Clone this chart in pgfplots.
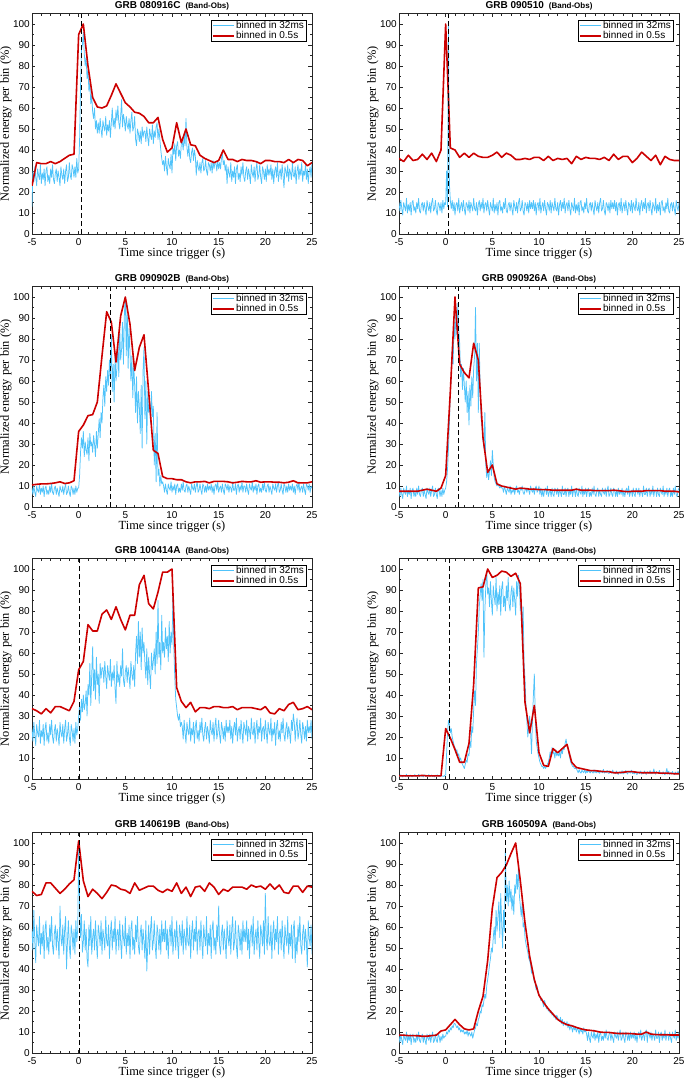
\documentclass[border=0pt]{standalone}
\usepackage{fontspec}
\setmainfont{Liberation Sans}
\newfontfamily\serifnf{Liberation Serif}
\usepackage{pgfplots}
\pgfplotsset{compat=1.18}
\definecolor{blue32}{RGB}{80,195,250}
\definecolor{red05}{RGB}{204,0,0}
\newcommand{\grbt}[1]{#1\hspace{5pt}{\fontsize{8}{10}\selectfont(Band-Obs)}}
\pgfplotsset{
 grb/.style={
  scale only axis, width=280pt, height=220.5pt,
  xmin=-5, xmax=25, ymin=0, ymax=105,
  xtick={-5,0,5,10,15,20,25}, ytick={0,10,...,100},
  minor x tick num=4, minor y tick num=1,
  tick align=inside, major tick length=3.5pt, minor tick length=2pt,
  tick style={black!85, line width=0.4pt},
  axis line style={black!85, line width=0.5pt},
  /pgf/number format/assume math mode=true,
  tick label style={font=\fontsize{10}{12}\selectfont, inner sep=0.5pt},
  xticklabel style={yshift=-4pt},
  yticklabel style={xshift=-1.5pt},
  xlabel={Time since trigger (s)}, ylabel={Normalized energy per bin (\%)},
  label style={font=\serifnf\fontsize{12.4}{14}\selectfont},
  xlabel style={at={(axis description cs:0.5,-0.088)},anchor=center},
  ylabel style={at={(axis description cs:-0.093,0.5)},anchor=center},
  every axis title/.style={at={(axis description cs:0.5,1)},anchor=base,yshift=5pt,font=\fontsize{10}{12}\selectfont\bfseries},
  legend style={at={(axis description cs:0.979,0.972)}, anchor=north east, draw=black, line width=0.5pt, fill=white, inner xsep=1pt, inner ysep=0pt, font=\fontsize{10}{11}\selectfont, row sep=0pt, nodes={inner sep=1pt}, cells={anchor=west}},
  legend image code/.code={\draw[#1] (0pt,0pt) -- (21pt,0pt);},
 },
 b32/.style={blue32, line width=0.75pt, line join=round},
 r05/.style={red05, line width=1.6pt, line join=round},
 trig/.style={black, line width=1.1pt, dash pattern=on 5pt off 3pt, forget plot},
}
\begin{document}
\begin{tikzpicture}
\useasboundingbox (0,0) rectangle (685pt,-1080pt);
% ---------------- Panel 1
\begin{axis}[grb, at={(32pt,-234pt)}, anchor=south west, title={\grbt{GRB 080916C}}]
\addplot[b32] coordinates {(-5,13)(-4.9,30)(-4.8,25)(-4.7,32)(-4.6,27)(-4.5,23)(-4.4,31)(-4.3,28)(-4.2,26)(-4.1,33)(-4,24)
(-3.9,29)(-3.8,26)(-3.7,31)(-3.6,23)(-3.5,30)(-3.4,32)(-3.3,25)(-3.2,28)(-3.1,24)(-3,31)
(-2.9,27)(-2.8,33)(-2.7,26)(-2.6,24)(-2.5,29)(-2.4,31)(-2.3,25)(-2.2,30)(-2.1,27)(-2,23)
(-1.9,32)(-1.8,28)(-1.7,26)(-1.6,31)(-1.5,24)(-1.4,30)(-1.3,33)(-1.2,25)(-1.1,27)(-1,34)
(-0.9,28)(-0.8,26)(-0.7,33)(-0.6,31)(-0.5,27)(-0.4,32)(-0.3,27)(-0.2,36)(-0.1,29)(0,31)
(0.1,45)(0.2,70)(0.3,88)(0.4,90)(0.5,96)(0.6,86)(0.7,80)(0.8,84)(0.9,74)(1,78)
(1.1,68)(1.2,72)(1.3,62)(1.4,66)(1.5,58)(1.6,55)(1.7,60)(1.8,50)(1.9,54)(2,48)
(2.1,53)(2.2,48)(2.3,55)(2.4,50)(2.5,46)(2.6,54)(2.7,51)(2.8,49)(2.9,56)(3,47)
(3.1,52)(3.2,49)(3.3,54)(3.4,46)(3.5,53)(3.6,60)(3.7,51)(3.8,55)(3.9,50)(4,59)
(4.1,54)(4.2,61)(4.3,53)(4.4,50)(4.5,56)(4.6,64)(4.7,51)(4.8,57)(4.9,54)(5,49)
(5.1,56)(5.2,52)(5.3,50)(5.4,55)(5.5,48)(5.6,54)(5.7,58)(5.8,49)(5.9,51)(6,56)
(6.1,45)(6.2,42)(6.3,50)(6.4,48)(6.5,44)(6.6,49)(6.7,43)(6.8,51)(6.9,46)(7,49)
(7.1,49)(7.2,44)(7.3,51)(7.4,46)(7.5,42)(7.6,50)(7.7,47)(7.8,45)(7.9,52)(8,43)
(8.1,49)(8.2,46)(8.3,51)(8.4,53)(8.5,45)(8.6,50)(8.7,45)(8.8,40)(8.9,36)(9,33)
(9.1,35)(9.2,30)(9.3,37)(9.4,32)(9.5,28)(9.6,36)(9.7,33)(9.8,31)(9.9,38)(10,29)
(10.1,41)(10.2,38)(10.3,43)(10.4,35)(10.5,42)(10.6,44)(10.7,37)(10.8,40)(10.9,36)(11,43)
(11.1,44)(11.2,40)(11.3,47)(11.4,42)(11.5,55)(11.6,41)(11.7,37)(11.8,43)(11.9,36)(12,34)
(12.1,39)(12.2,41)(12.3,35)(12.4,40)(12.5,37)(12.6,28)(12.7,35)(12.8,32)(12.9,30)(13,34)
(13.1,29)(13.2,34)(13.3,36)(13.4,30)(13.5,31)(13.6,35)(13.7,30)(13.8,28)(13.9,34)(14,33)
(14.1,30)(14.2,34)(14.3,29)(14.4,35)(14.5,31)(14.6,34)(14.7,34)(14.8,30)(14.9,35)(15,31)
(15.1,34)(15.2,31)(15.3,36)(15.4,38)(15.5,33)(15.6,35)(15.7,30)(15.8,33)
(15.9,24)(16,32)(16.1,29)(16.2,27)(16.3,34)(16.4,25)(16.5,30)(16.6,27)(16.7,32)(16.8,24)
(16.9,31)(17,33)(17.1,26)(17.2,29)(17.3,25)(17.4,32)(17.5,28)(17.6,34)(17.7,27)(17.8,25)
(17.9,30)(18,32)(18.1,26)(18.2,31)(18.3,28)(18.4,24)(18.5,33)(18.6,29)(18.7,27)(18.8,32)
(18.9,25)(19,31)(19.1,34)(19.2,26)(19.3,28)(19.4,33)(19.5,27)(19.6,24)(19.7,32)(19.8,30)
(19.9,26)(20,31)(20.1,25)(20.2,33)(20.3,28)(20.4,31)
(20.5,28)(20.6,33)(20.7,26)(20.8,31)(20.9,24)(21,30)(21.1,32)(21.2,27)(21.3,34)(21.4,25)
(21.5,29)(21.6,31)(21.7,26)(21.8,33)(21.9,28)(22,22)(22.1,32)(22.2,30)(22.3,27)(22.4,33)
(22.5,25)(22.6,31)(22.7,29)(22.8,26)(22.9,34)(23,28)(23.1,27)(23.2,32)(23.3,24)(23.4,30)
(23.5,33)(23.6,26)(23.7,31)(23.8,28)(23.9,34)(24,25)(24.1,30)(24.2,28)(24.3,33)(24.4,26)
(24.5,31)(24.6,24)(24.7,30)(24.8,32)(24.9,27)(25,34)};
\addplot[r05] coordinates {(-5,23)(-4.5,34)(-4,33.5)(-3.5,33.5)(-3,34.5)(-2.5,33.5)(-2,34.5)(-1.5,36)(-1,37.5)(-0.5,38)(0,95)(0.5,100)(1,80)(1.5,65)(2,60.5)(2.5,60)(3,61)(3.5,66)(4,71.5)(4.5,67)(5,62.5)(5.5,60.5)(6,58)(6.5,57.5)(7,56)(7.5,53)(8,53)(8.5,55.5)(9,45)(9.5,39)(10,41)(10.5,53)(11,43.5)(11.5,50)(12,42.5)(12.5,42)(13,37.5)(13.5,36)(14,35)(14.5,34)(15,35)(15.5,40)(16,35.5)(16.5,35.5)(17,34.5)(17.5,35.5)(18,35)(18.5,35)(19,34.5)(19.5,33.5)(20,35)(20.5,35)(21,34.5)(21.5,34.5)(22,34)(22.5,35.5)(23,34)(23.5,35.5)(24,35)(24.5,32.5)(25,34)};
\addplot[trig] coordinates {(0.3,0)(0.3,105)};
\legend{binned in 32ms,binned in 0.5s}
\end{axis}
% ---------------- Panel 2
\begin{axis}[grb, at={(399pt,-234pt)}, anchor=south west, title={\grbt{GRB 090510}}]
\addplot[b32] coordinates {(-5,15)(-4.9,11)(-4.8,16)(-4.7,12)(-4.6,9)(-4.5,15)(-4.4,13)(-4.3,11)(-4.2,17)(-4.1,10)
(-4,14)(-3.9,11)(-3.8,15)(-3.7,9)(-3.6,15)(-3.5,16)(-3.4,11)(-3.3,13)(-3.2,10)(-3.1,15)
(-3,12)(-2.9,17)(-2.8,11)(-2.7,10)(-2.6,14)(-2.5,15)(-2.4,11)(-2.3,15)(-2.2,12)(-2.1,9)
(-2,16)(-1.9,13)(-1.8,11)(-1.7,15)(-1.6,10)(-1.5,15)(-1.4,17)(-1.3,11)(-1.2,12)(-1.1,16)
(-1,11)(-0.9,9)(-0.8,15)(-0.7,14)(-0.6,11)(-0.5,15)(-0.4,10)(-0.3,16)(-0.2,12)(-0.1,15)
(0,14)(0.1,30)(0.2,13)(0.3,100)(0.4,24)(0.5,16)
(0.6,12)(0.7,16)(0.8,11)(0.9,15)(1,9)(1.1,14)(1.2,15)(1.3,11)(1.4,17)(1.5,10)
(1.6,13)(1.7,15)(1.8,11)(1.9,16)(2,12)(2.1,9)(2.2,15)(2.3,14)(2.4,11)(2.5,16)
(2.6,10)(2.7,15)(2.8,13)(2.9,11)(3,17)(3.1,12)(3.2,11)(3.3,15)(3.4,9)(3.5,14)
(3.6,16)(3.7,11)(3.8,15)(3.9,12)(4,17)(4.1,10)(4.2,14)
(4.3,15)(4.4,11)(4.5,16)(4.6,12)(4.7,9)(4.8,15)(4.9,13)(5,11)(5.1,17)(5.2,10)
(5.3,14)(5.4,11)(5.5,15)(5.6,9)(5.7,15)(5.8,16)(5.9,11)(6,13)(6.1,10)(6.2,15)
(6.3,12)(6.4,17)(6.5,11)(6.6,10)(6.7,14)(6.8,15)(6.9,11)(7,15)(7.1,12)(7.2,9)
(7.3,16)(7.4,13)(7.5,11)(7.6,15)(7.7,10)(7.8,15)(7.9,17)(8,11)(8.1,12)(8.2,16)
(8.3,11)(8.4,9)(8.5,15)(8.6,14)(8.7,11)(8.8,15)(8.9,10)(9,16)(9.1,12)(9.2,15)
(9.3,12)(9.4,16)(9.5,11)(9.6,15)(9.7,9)(9.8,14)(9.9,15)(10,11)(10.1,17)(10.2,10)
(10.3,13)(10.4,15)(10.5,11)(10.6,16)(10.7,12)(10.8,9)(10.9,15)(11,14)(11.1,11)(11.2,16)
(11.3,10)(11.4,15)(11.5,13)(11.6,11)(11.7,17)(11.8,12)(11.9,11)(12,15)(12.1,9)(12.2,14)
(12.3,16)(12.4,11)(12.5,15)(12.6,12)(12.7,17)(12.8,10)(12.9,14)
(13,15)(13.1,11)(13.2,16)(13.3,12)(13.4,9)(13.5,15)(13.6,13)(13.7,11)(13.8,17)(13.9,10)
(14,14)(14.1,11)(14.2,15)(14.3,9)(14.4,15)(14.5,16)(14.6,11)(14.7,13)(14.8,10)(14.9,15)
(15,12)(15.1,17)(15.2,11)(15.3,10)(15.4,14)(15.5,15)(15.6,11)(15.7,15)(15.8,12)(15.9,9)
(16,16)(16.1,13)(16.2,11)(16.3,15)(16.4,10)(16.5,15)(16.6,17)(16.7,11)(16.8,12)(16.9,16)
(17,11)(17.1,9)(17.2,15)(17.3,14)(17.4,11)(17.5,15)(17.6,10)(17.7,16)(17.8,12)(17.9,15)
(18,12)(18.1,16)(18.2,11)(18.3,15)(18.4,9)(18.5,14)(18.6,15)(18.7,11)(18.8,17)(18.9,10)
(19,13)(19.1,15)(19.2,11)(19.3,16)(19.4,12)(19.5,9)(19.6,15)(19.7,14)(19.8,11)(19.9,16)
(20,10)(20.1,15)(20.2,13)(20.3,11)(20.4,17)(20.5,12)(20.6,11)(20.7,15)(20.8,9)(20.9,14)
(21,16)(21.1,11)(21.2,15)(21.3,12)(21.4,17)(21.5,10)(21.6,14)
(21.7,15)(21.8,11)(21.9,16)(22,12)(22.1,9)(22.2,15)(22.3,13)(22.4,11)(22.5,17)(22.6,10)
(22.7,14)(22.8,11)(22.9,15)(23,9)(23.1,15)(23.2,16)(23.3,11)(23.4,13)(23.5,10)(23.6,15)
(23.7,12)(23.8,17)(23.9,11)(24,10)(24.1,14)(24.2,15)(24.3,11)(24.4,15)(24.5,12)(24.6,9)
(24.7,16)(24.8,13)(24.9,11)(25,15)};
\addplot[r05] coordinates {(-5,36)(-4.5,34.5)(-4,37.5)(-3.5,35)(-3,35.5)(-2.5,38)(-2,35.5)(-1.5,38.5)(-1,34.5)(-0.5,40)(0,100)(0.5,41)(1,40)(1.5,36.5)(2,38.5)(2.5,36.5)(3,38.5)(3.5,37)(4,36.5)(4.5,36.5)(5,37.5)(5.5,39)(6,36.5)(6.5,38.5)(7,37.5)(7.5,35.5)(8,35.5)(8.5,36)(9,35.5)(9.5,36.5)(10,36.5)(10.5,35)(11,37)(11.5,35)(12,36)(12.5,35.5)(13,36)(13.5,33.5)(14,37)(14.5,35.5)(15,36.5)(15.5,36)(16,36)(16.5,35.5)(17,36.5)(17.5,35)(18,38)(18.5,35.5)(19,37)(19.5,37)(20,34)(20.5,36)(21,39)(21.5,37)(22,35)(22.5,37.5)(23,33)(23.5,37)(24,35.5)(24.5,35)(25,35)};
\addplot[trig] coordinates {(0.3,0)(0.3,105)};
\legend{binned in 32ms,binned in 0.5s}
\end{axis}
% ---------------- Panel 3
\begin{axis}[grb, at={(32pt,-507pt)}, anchor=south west, title={\grbt{GRB 090902B}}]
\addplot[b32] coordinates {(-5,9)(-4.9,6)(-4.8,10)(-4.7,7)(-4.6,5)(-4.5,10)(-4.4,8)(-4.3,7)(-4.2,11)(-4.1,6)
(-4,9)(-3.9,7)(-3.8,10)(-3.7,5)(-3.6,9)(-3.5,10)(-3.4,6)(-3.3,8)(-3.2,6)(-3.1,10)
(-3,7)(-2.9,11)(-2.8,7)(-2.7,6)(-2.6,9)(-2.5,10)(-2.4,6)(-2.3,9)(-2.2,7)(-2.1,5)
(-2,10)(-1.9,8)(-1.8,7)(-1.7,10)(-1.6,6)(-1.5,9)(-1.4,11)(-1.3,6)(-1.2,7)(-1.1,10)
(-1,7)(-0.9,5)(-0.8,10)(-0.7,9)(-0.6,6)(-0.5,9)(-0.4,6)(-0.3,10)(-0.2,7)(-0.1,9)
(0,9)(0.1,15)(0.2,26)(0.3,33)(0.4,28)(0.5,36)(0.6,24)(0.7,31)(0.8,27)(0.9,25)
(1,33)(1.1,22)(1.2,35)(1.3,29)(1.4,31)(1.5,26)(1.6,34)(1.7,30)(1.8,24)(1.9,36)(2,28)
(2.1,35)(2.2,42)(2.3,33)(2.4,45)(2.5,40)(2.6,52)(2.7,58)(2.8,48)(2.9,62)(3,55)
(3.1,65)(3.2,58)(3.3,70)(3.4,62)(3.5,82)(3.6,55)(3.7,68)(3.8,50)(3.9,72)(4,60)
(4.1,66)(4.2,78)(4.3,62)(4.4,85)(4.5,70)(4.6,75)(4.7,88)(4.8,68)(4.9,92)(5,100)
(5.1,72)(5.2,96)(5.3,66)(5.4,85)(5.5,74)(5.6,60)(5.7,72)(5.8,52)(5.9,68)(6,58)
(6.1,45)(6.2,62)(6.3,40)(6.4,55)(6.5,48)(6.6,35)(6.7,58)(6.8,28)(6.9,65)(7,76)
(7.1,42)(7.2,60)(7.3,30)(7.4,55)(7.5,45)(7.6,50)(7.7,40)(7.8,55)(7.9,43)(8,48)
(8.1,20)(8.2,35)(8.3,12)(8.4,45)(8.5,15)(8.6,18)(8.7,10)(8.8,15)(8.9,11)(9,12)
(9.1,10)(9.2,7)(9.3,11)(9.4,8)(9.5,6)(9.6,11)(9.7,9)(9.8,8)(9.9,12)(10,7)
(10.1,10)(10.2,8)(10.3,11)(10.4,6)(10.5,10)(10.6,11)(10.7,7)(10.8,9)(10.9,7)(11,11)
(11.1,8)(11.2,12)(11.3,8)(11.4,7)(11.5,10)(11.6,11)(11.7,7)(11.8,10)(11.9,8)(12,6)
(12.1,11)(12.2,9)(12.3,8)(12.4,11)(12.5,7)(12.6,10)(12.7,12)(12.8,7)(12.9,8)(13,11)
(13.1,8)(13.2,6)(13.3,11)(13.4,10)(13.5,7)(13.6,10)(13.7,7)(13.8,11)(13.9,8)(14,10)
(14.1,8)(14.2,11)(14.3,7)(14.4,10)(14.5,6)(14.6,10)(14.7,11)(14.8,8)(14.9,12)(15,7)
(15.1,9)(15.2,10)(15.3,7)(15.4,11)(15.5,8)(15.6,6)(15.7,11)(15.8,10)(15.9,8)(16,11)
(16.1,7)(16.2,10)(16.3,9)(16.4,7)(16.5,12)(16.6,8)(16.7,8)(16.8,11)(16.9,6)(17,10)
(17.1,11)(17.2,7)(17.3,10)(17.4,8)(17.5,12)(17.6,7)(17.7,10)
(17.8,10)(17.9,7)(18,11)(18.1,8)(18.2,6)(18.3,11)(18.4,9)(18.5,8)(18.6,12)(18.7,7)
(18.8,10)(18.9,8)(19,11)(19.1,6)(19.2,10)(19.3,11)(19.4,7)(19.5,9)(19.6,7)(19.7,11)
(19.8,8)(19.9,12)(20,8)(20.1,7)(20.2,10)(20.3,11)(20.4,7)(20.5,10)(20.6,8)(20.7,6)
(20.8,11)(20.9,9)(21,8)(21.1,11)(21.2,7)(21.3,10)(21.4,12)(21.5,7)(21.6,8)(21.7,11)
(21.8,8)(21.9,6)(22,11)(22.1,10)(22.2,7)(22.3,10)(22.4,7)(22.5,11)(22.6,8)(22.7,10)
(22.8,8)(22.9,11)(23,7)(23.1,10)(23.2,6)(23.3,10)(23.4,11)(23.5,8)(23.6,12)(23.7,7)
(23.8,9)(23.9,10)(24,7)(24.1,11)(24.2,8)(24.3,6)(24.4,11)(24.5,10)(24.6,8)(24.7,11)
(24.8,7)(24.9,10)(25,9)};
\addplot[r05] coordinates {(-5,10.5)(-4.5,10.8)(-4,11)(-3.5,11)(-3,11.2)(-2.5,11.5)(-2,12)(-1.5,11.2)(-1,11.5)(-0.5,12.5)(0,36)(0.5,39)(1,43.5)(1.5,44)(2,50)(2.5,72)(3,93)(3.5,88)(4,69)(4.5,91)(5,100)(5.5,87)(6,65)(6.5,76)(7,82)(7.5,55)(8,27)(8.5,25.5)(9,14.5)(9.5,13.5)(10,13.5)(10.5,13)(11,13)(11.5,12)(12,11.5)(12.5,12)(13,12)(13.5,12.2)(14,11.5)(14.5,12.2)(15,12.2)(15.5,12.2)(16,12)(16.5,11.5)(17,11.8)(17.5,12.2)(18,12)(18.5,12)(19,12.5)(19.5,11.8)(20,12)(20.5,12)(21,11.8)(21.5,11.8)(22,11.5)(22.5,11.8)(23,12.5)(23.5,11.5)(24,11.5)(24.5,11.5)(25,12)};
\addplot[trig] coordinates {(3.45,0)(3.45,105)};
\legend{binned in 32ms,binned in 0.5s}
\end{axis}
% ---------------- Panel 4
\begin{axis}[grb, at={(399pt,-507pt)}, anchor=south west, title={\grbt{GRB 090926A}}]
\addplot[b32] coordinates {(-5,8)(-4.9,5)(-4.8,9)(-4.7,6)(-4.6,4)(-4.5,9)(-4.4,7)(-4.3,6)(-4.2,10)(-4.1,5)
(-4,8)(-3.9,6)(-3.8,9)(-3.7,4)(-3.6,8)(-3.5,9)(-3.4,5)(-3.3,7)(-3.2,5)(-3.1,9)
(-3,6)(-2.9,10)(-2.8,6)(-2.7,5)(-2.6,8)(-2.5,9)(-2.4,5)(-2.3,8)(-2.2,6)(-2.1,4)
(-2,9)(-1.9,7)(-1.8,6)(-1.7,9)(-1.6,5)(-1.5,8)(-1.4,10)(-1.3,5)(-1.2,6)(-1.1,9)
(-1,6)(-0.9,4)(-0.8,9)(-0.7,8)(-0.6,5)(-0.5,8)(-0.4,5)(-0.3,9)(-0.2,6)(-0.1,8)
(0,9)(0.1,12)(0.2,18)(0.3,28)(0.4,40)(0.5,55)(0.6,62)(0.7,75)(0.8,68)(0.9,88)(1,80)
(1.1,92)(1.2,82)(1.3,97)(1.4,85)(1.5,78)(1.6,62)(1.7,68)(1.8,56)(1.9,66)(2,58)
(2.1,50)(2.2,60)(2.3,45)(2.4,55)(2.5,39)(2.6,58)(2.7,48)(2.8,62)(2.9,52)(3,66)
(3.1,72)(3.2,95)(3.3,60)(3.4,78)(3.5,45)(3.6,78)(3.7,55)(3.8,42)(3.9,38)(4,32)
(4.1,28)(4.2,45)(4.3,20)(4.4,14)(4.5,18)(4.6,13)(4.7,17)(4.8,22)(4.9,15)(5,27)
(5.1,20)(5.2,14)(5.3,12)(5.4,11)(5.5,10)(5.6,11)(5.7,10)(5.8,9)(5.9,10)(6,9)
(6.1,9)(6.2,7)(6.3,10)(6.4,8)(6.5,6)(6.6,9)(6.7,8)(6.8,7)(6.9,10)(7,6)
(7.1,8)(7.2,7)(7.3,9)(7.4,6)(7.5,9)(7.6,10)(7.7,7)(7.8,8)(7.9,6)(8,9)
(8.1,8)(8.2,10)(8.3,7)(8.4,6)(8.5,8)(8.6,9)(8.7,7)(8.8,9)(8.9,8)(9,6)
(9.1,10)(9.2,8)(9.3,7)(9.4,9)(9.5,6)(9.6,9)(9.7,10)(9.8,7)(9.9,8)(10,10)
(10.1,6)(10.2,9)(10.3,5)(10.4,8)(10.5,5)(10.6,8)(10.7,9)(10.8,6)(10.9,10)(11,5)
(11.1,7)(11.2,8)(11.3,5)(11.4,9)(11.5,6)(11.6,5)(11.7,9)(11.8,8)(11.9,6)(12,9)
(12.1,5)(12.2,8)(12.3,7)(12.4,5)(12.5,10)(12.6,6)(12.7,6)(12.8,9)(12.9,5)(13,8)
(13.1,9)(13.2,5)(13.3,8)(13.4,6)(13.5,10)(13.6,5)(13.7,8)
(13.8,8)(13.9,5)(14,9)(14.1,6)(14.2,5)(14.3,9)(14.4,7)(14.5,6)(14.6,10)(14.7,5)
(14.8,8)(14.9,6)(15,9)(15.1,5)(15.2,8)(15.3,9)(15.4,5)(15.5,7)(15.6,5)(15.7,9)
(15.8,6)(15.9,10)(16,6)(16.1,5)(16.2,8)(16.3,9)(16.4,5)(16.5,8)(16.6,6)(16.7,5)
(16.8,9)(16.9,7)(17,6)(17.1,9)(17.2,5)(17.3,8)(17.4,10)(17.5,5)(17.6,6)(17.7,9)
(17.8,6)(17.9,5)(18,9)(18.1,8)(18.2,5)(18.3,8)(18.4,5)(18.5,9)(18.6,6)(18.7,8)
(18.8,6)(18.9,9)(19,5)(19.1,8)(19.2,5)(19.3,8)(19.4,9)(19.5,6)(19.6,10)(19.7,5)
(19.8,7)(19.9,8)(20,5)(20.1,9)(20.2,6)(20.3,5)(20.4,9)(20.5,8)(20.6,6)(20.7,9)
(20.8,5)(20.9,8)(21,7)(21.1,5)(21.2,10)(21.3,6)(21.4,6)(21.5,9)(21.6,5)(21.7,8)
(21.8,9)(21.9,5)(22,8)(22.1,6)(22.2,10)(22.3,5)(22.4,8)
(22.5,8)(22.6,5)(22.7,9)(22.8,6)(22.9,5)(23,9)(23.1,7)(23.2,6)(23.3,10)(23.4,5)
(23.5,8)(23.6,6)(23.7,9)(23.8,5)(23.9,8)(24,9)(24.1,5)(24.2,7)(24.3,5)(24.4,9)
(24.5,6)(24.6,10)(24.7,6)(24.8,5)(24.9,8)(25,9)};
\addplot[r05] coordinates {(-5,7.5)(-4.5,7.5)(-4,7.5)(-3.5,7.5)(-3,7.5)(-2.5,8)(-2,8.5)(-1.5,8)(-1,7.5)(-0.5,9)(0,15)(0.5,55)(1,100)(1.5,68)(2,64)(2.5,61.5)(3,78)(3.5,70)(4,33)(4.5,16.5)(5,20)(5.5,11)(6,10)(6.5,9.5)(7,9)(7.5,8.5)(8,9)(8.5,8.8)(9,8.5)(9.5,8.5)(10,8.3)(10.5,8.3)(11,8.2)(11.5,8)(12,8)(12.5,8)(13,8)(13.5,8)(14,8.5)(14.5,8)(15,8)(15.5,8)(16,7.8)(16.5,7.8)(17,7.8)(17.5,7.8)(18,8)(18.5,7.8)(19,7.5)(19.5,7.3)(20,7.5)(20.5,7.5)(21,7.5)(21.5,7.8)(22,7.8)(22.5,7.8)(23,7.8)(23.5,7.5)(24,7.5)(24.5,7.5)(25,7.2)};
\addplot[trig] coordinates {(1.4,0)(1.4,105)};
\legend{binned in 32ms,binned in 0.5s}
\end{axis}
% ---------------- Panel 5
\begin{axis}[grb, at={(32pt,-779pt)}, anchor=south west, title={\grbt{GRB 100414A}}]
\addplot[b32] coordinates {(-5,24)(-4.9,18)(-4.8,27)(-4.7,21)(-4.6,16)(-4.5,26)(-4.4,22)(-4.3,20)(-4.2,28)(-4.1,17)
(-4,23)(-3.9,20)(-3.8,26)(-3.7,16)(-3.6,24)(-3.5,27)(-3.4,18)(-3.3,22)(-3.2,17)(-3.1,26)
(-3,21)(-2.9,28)(-2.8,20)(-2.7,17)(-2.6,23)(-2.5,26)(-2.4,18)(-2.3,24)(-2.2,21)(-2.1,16)
(-2,27)(-1.9,22)(-1.8,20)(-1.7,26)(-1.6,17)(-1.5,24)(-1.4,28)(-1.3,18)(-1.2,21)(-1.1,27)
(-1,20)(-0.9,16)(-0.8,26)(-0.7,23)(-0.6,18)(-0.5,24)(-0.4,17)(-0.3,27)(-0.2,21)(-0.1,24)
(0,30)(0.1,35)(0.2,28)(0.3,38)(0.4,32)(0.5,40)(0.6,33)(0.7,36)(0.8,42)(0.9,30)(1,45)
(1.1,40)(1.2,55)(1.3,35)(1.4,50)(1.5,63)(1.6,42)(1.7,52)(1.8,38)(1.9,58)(2,45)
(2.1,50)(2.2,36)(2.3,55)(2.4,48)(2.5,53)
(2.6,53)(2.7,46)(2.8,56)(2.9,49)(3,43)(3.1,54)(3.2,50)(3.3,47)(3.4,57)(3.5,44)
(3.6,51)(3.7,47)(3.8,54)(3.9,43)(4,36)(4.1,56)(4.2,46)(4.3,50)(4.4,44)(4.5,54)
(4.6,49)(4.7,62)(4.8,47)(4.9,44)(5,51)(5.1,54)(5.2,46)(5.3,53)(5.4,49)(5.5,43)
(5.6,56)(5.7,50)(5.8,47)(5.9,54)(6,44)
(6.1,60)(6.2,68)(6.3,55)(6.4,75)(6.5,58)(6.6,70)(6.7,52)(6.8,72)(6.9,60)(7,65)
(7.1,55)(7.2,48)(7.3,62)(7.4,45)(7.5,58)(7.6,50)(7.7,43)(7.8,60)(7.9,52)(8,56)
(8.1,62)(8.2,50)(8.3,70)(8.4,55)(8.5,85)(8.6,58)(8.7,65)(8.8,52)(8.9,78)(9,60)
(9.1,65)(9.2,58)(9.3,72)(9.4,62)(9.5,68)(9.6,56)(9.7,75)(9.8,60)(9.9,70)(10,64)
(10.1,88)(10.2,62)(10.3,48)(10.4,38)(10.5,34)(10.6,30)(10.7,28)(10.8,31)(10.9,25)(11,27)
(11.1,25)(11.2,19)(11.3,28)(11.4,22)(11.5,17)(11.6,27)(11.7,23)(11.8,21)(11.9,29)(12,18)
(12.1,24)(12.2,21)(12.3,27)(12.4,17)(12.5,25)(12.6,28)(12.7,19)(12.8,23)(12.9,18)(13,27)
(13.1,22)(13.2,29)(13.3,21)(13.4,18)(13.5,24)(13.6,27)(13.7,19)(13.8,25)(13.9,22)(14,17)
(14.1,28)(14.2,23)(14.3,21)(14.4,27)(14.5,18)(14.6,25)(14.7,29)(14.8,19)(14.9,22)(15,28)
(15.1,21)(15.2,17)(15.3,27)(15.4,24)(15.5,19)(15.6,25)(15.7,18)(15.8,28)(15.9,22)(16,25)
(16.1,22)(16.2,28)(16.3,19)(16.4,25)(16.5,17)(16.6,24)(16.7,27)(16.8,21)(16.9,29)(17,18)
(17.1,23)(17.2,25)(17.3,19)(17.4,28)(17.5,22)(17.6,17)(17.7,27)(17.8,24)(17.9,21)(18,28)
(18.1,18)(18.2,25)(18.3,23)(18.4,19)(18.5,29)(18.6,22)(18.7,21)(18.8,27)(18.9,17)(19,24)
(19.1,28)(19.2,19)(19.3,25)(19.4,22)(19.5,29)(19.6,18)(19.7,24)
(19.8,25)(19.9,19)(20,28)(20.1,22)(20.2,17)(20.3,27)(20.4,23)(20.5,21)(20.6,29)(20.7,18)
(20.8,24)(20.9,21)(21,27)(21.1,16)(21.2,25)(21.3,28)(21.4,19)(21.5,23)(21.6,18)(21.7,27)
(21.8,22)(21.9,29)(22,21)(22.1,18)(22.2,24)(22.3,27)(22.4,19)(22.5,25)(22.6,22)(22.7,17)
(22.8,28)(22.9,23)(23,31)(23.1,27)(23.2,18)(23.3,25)(23.4,29)(23.5,19)(23.6,22)(23.7,28)
(23.8,21)(23.9,17)(24,27)(24.1,24)(24.2,19)(24.3,25)(24.4,18)(24.5,28)(24.6,22)(24.7,25)
(24.8,22)(24.9,28)(25,19)};
\addplot[r05] coordinates {(-5,33.5)(-4.5,32.5)(-4,31)(-3.5,33.5)(-3,31.5)(-2.5,34.5)(-2,34.5)(-1.5,33.5)(-1,32.5)(-0.5,37)(0,52)(0.5,56)(1,73.5)(1.5,70.5)(2,70.5)(2.5,78.5)(3,80.5)(3.5,76)(4,82)(4.5,76)(5,71)(5.5,78)(6,78)(6.5,92.5)(7,97)(7.5,83.5)(8,81)(8.5,89)(9,98.5)(9.5,98.5)(10,100)(10.5,43.5)(11,37)(11.5,34)(12,36.5)(12.5,32)(13,34)(13.5,34)(14,33.5)(14.5,34.5)(15,34.5)(15.5,34)(16,34)(16.5,34.5)(17,33)(17.5,34)(18,34)(18.5,34)(19,33.5)(19.5,33)(20,34.5)(20.5,31.5)(21,31)(21.5,33.5)(22,32.5)(22.5,35.5)(23,36.5)(23.5,33)(24,33.5)(24.5,34.5)(25,33)};
\addplot[trig] coordinates {(0.05,0)(0.05,105)};
\legend{binned in 32ms,binned in 0.5s}
\end{axis}
% ---------------- Panel 6
\begin{axis}[grb, at={(399pt,-779pt)}, anchor=south west, title={\grbt{GRB 130427A}}]
\addplot[b32] coordinates {(-5,1.5)(-4.9,1.2)(-4.8,2)(-4.7,1.3)(-4.6,1)(-4.5,1.8)(-4.4,1.5)(-4.3,1.2)(-4.2,2.3)(-4.1,1.1)
(-4,1.6)(-3.9,1.1)(-3.8,1.9)(-3.7,1.4)(-3.6,1)(-3.5,1.7)(-3.4,1.3)(-3.3,2.1)(-3.2,1.2)(-3.1,1.5)
(-3,1.4)(-2.9,2.2)(-2.8,1.1)(-2.7,1.8)(-2.6,1.3)(-2.5,1.6)(-2.4,1)(-2.3,2)(-2.2,1.4)(-2.1,1.2)
(-2,1.7)(-1.9,1.3)(-1.8,2.1)(-1.7,1.1)(-1.6,1.5)(-1.5,1.9)(-1.4,1.2)(-1.3,1.6)(-1.2,1)(-1.1,1.8)
(-1,1.4)(-0.9,2)(-0.8,1.2)(-0.7,1.6)(-0.6,1.1)(-0.5,1.9)(-0.4,1.3)(-0.3,1.5)(-0.2,1.2)(-0.1,1.7)
(0,2)(0.1,12)(0.2,22)(0.3,28)(0.4,26)(0.5,22)(0.6,24)(0.7,20)(0.8,18)(0.9,16)(1,15)
(1.1,13)(1.2,14)(1.3,11)(1.4,12)(1.5,9)(1.6,10)(1.7,8)(1.8,7)(1.9,6)(2,5)
(2.1,7)(2.2,9)(2.3,8)(2.4,12)(2.5,11)(2.6,18)(2.7,15)(2.8,25)(2.9,22)(3,33)
(3.1,42)(3.2,35)(3.3,55)(3.4,62)(3.5,70)(3.6,82)(3.7,88)(3.8,93)(3.9,85)(4,95)
(4.1,58)(4.2,80)(4.3,92)(4.4,99)(4.5,88)
(4.6,91)(4.7,82)(4.8,94)(4.9,85)(5,78)(5.1,92)(5.2,87)(5.3,83)(5.4,96)(5.5,80)
(5.6,89)(5.7,83)(5.8,92)(5.9,78)(6,91)(6.1,94)(6.2,82)(6.3,87)(6.4,80)(6.5,92)
(6.6,85)(6.7,96)(6.8,83)(6.9,80)(7,89)(7.1,92)(7.2,82)(7.3,91)(7.4,85)(7.5,78)
(7.6,94)(7.7,87)(7.8,97)(7.9,92)(8,80)
(8.1,86)(8.2,70)(8.3,82)(8.4,55)(8.5,48)(8.6,35)(8.7,28)(8.8,20)(8.9,25)(9,30)
(9.1,22)(9.2,12)(9.3,28)(9.4,40)(9.5,50)(9.6,30)(9.7,18)(9.8,15)(9.9,12)(10,10)
(10.1,8)(10.2,7)(10.3,6)(10.4,6)(10.5,5)(10.6,6)(10.7,5)(10.8,6)(10.9,7)(11,8)
(11.1,10)(11.2,13)(11.3,11)(11.4,15)(11.5,12)(11.6,13)(11.7,10)(11.8,14)(11.9,11)(12,12)
(12.1,11)(12.2,13)(12.3,10)(12.4,14)(12.5,12)(12.6,15)(12.7,14)(12.8,17)(12.9,19)(13,16)
(13.1,15)(13.2,12)(13.3,10)(13.4,8)(13.5,7)(13.6,6)(13.7,6)(13.8,5)(13.9,5)(14,5)
(14.1,4)(14.2,3)(14.3,4.5)(14.4,3.2)(14.5,2.8)(14.6,4.2)(14.7,3.5)(14.8,3)(14.9,4.8)(15,2.7)
(15.1,3.8)(15.2,3.1)(15.3,4.3)(15.4,3.4)(15.5,2.9)(15.6,4.1)(15.7,3.3)(15.8,2.8)(15.9,4.4)(16,3)
(16.1,3.6)(16.2,2.9)(16.3,4.2)(16.4,3.1)(16.5,2.7)(16.6,4)(16.7,3.4)(16.8,3)(16.9,4.6)(17,2.8)
(17.1,3.5)(17.2,3)(17.3,4.1)(17.4,2.9)(17.5,2.6)(17.6,3.9)(17.7,3.2)(17.8,2.7)(17.9,4.3)(18,2.8)
(18.1,3.2)(18.2,2.5)(18.3,3.8)(18.4,2.7)(18.5,2.2)(18.6,3.5)(18.7,3)(18.8,2.6)(18.9,4)(19,2.4)
(19.1,3.4)(19.2,2.7)(19.3,4.1)(19.4,2.9)(19.5,2.4)(19.6,3.7)(19.7,3.1)(19.8,2.8)(19.9,4.2)(20,2.6)
(20.1,3.1)(20.2,2.4)(20.3,3.6)(20.4,2.6)(20.5,2.1)(20.6,3.3)(20.7,2.9)(20.8,2.5)(20.9,3.8)(21,2.3)
(21.1,3.2)(21.2,2.5)(21.3,3.8)(21.4,2.7)(21.5,2.2)(21.6,3.5)(21.7,3)(21.8,2.6)(21.9,4)(22,2.4)
(22.1,3.3)(22.2,2.6)(22.3,4.8)(22.4,2.8)(22.5,2.3)(22.6,3.6)(22.7,3.1)(22.8,2.7)(22.9,4.1)(23,2.5)
(23.1,3)(23.2,2.3)(23.3,3.5)(23.4,2.5)(23.5,2)(23.6,3.2)(23.7,5)(23.8,2.4)(23.9,3.7)(24,2.2)
(24.1,3)(24.2,2.4)(24.3,3.6)(24.4,2.6)(24.5,2.1)(24.6,3.3)(24.7,2.8)(24.8,2.4)(24.9,3.8)(25,2.3)};
\addplot[r05] coordinates {(-5,1.5)(-4.5,1.5)(-4,1.5)(-3.5,1.5)(-3,1.5)(-2.5,1.7)(-2,1.5)(-1.5,1.5)(-1,1.5)(-0.5,1.5)(0,24)(0.5,19.5)(1,14)(1.5,8)(2,8)(2.5,17)(3,45)(3.5,91)(4,91.5)(4.5,100)(5,96)(5.5,97)(6,99)(6.5,98.5)(7,96.5)(7.5,98)(8,93)(8.5,36.5)(9,22)(9.5,35)(10,12.5)(10.5,6.5)(11,6)(11.5,14.5)(12,12.5)(12.5,14.5)(13,16.5)(13.5,8)(14,5.5)(14.5,5)(15,4.5)(15.5,4)(16,4)(16.5,3.7)(17,3.5)(17.5,3.5)(18,3)(18.5,3)(19,3.2)(19.5,3.5)(20,3.5)(20.5,3.2)(21,3)(21.5,3)(22,3)(22.5,3)(23,2.8)(23.5,2.8)(24,2.7)(24.5,2.5)(25,2.5)};
\addplot[trig] coordinates {(0.4,0)(0.4,105)};
\legend{binned in 32ms,binned in 0.5s}
\end{axis}
% ---------------- Panel 7
\begin{axis}[grb, at={(32pt,-1053pt)}, anchor=south west, title={\grbt{GRB 140619B}}]
\addplot[b32] coordinates {(-5,59)(-4.9,49)(-4.8,68)(-4.7,53)(-4.6,43)(-4.5,61)(-4.4,55)(-4.3,51)(-4.2,65)(-4.1,47)
(-4,57)(-3.9,51)(-3.8,61)(-3.7,45)(-3.6,59)(-3.5,63)(-3.4,49)(-3.3,55)(-3.2,47)(-3.1,61)
(-3,53)(-2.9,65)(-2.8,51)(-2.7,47)(-2.6,57)(-2.5,61)(-2.4,49)(-2.3,59)(-2.2,53)(-2.1,45)
(-2,70)(-1.9,55)(-1.8,51)(-1.7,61)(-1.6,47)(-1.5,59)(-1.4,65)(-1.3,40)(-1.2,53)(-1.1,63)
(-1,51)(-0.9,45)(-0.8,61)(-0.7,57)(-0.6,49)(-0.5,59)(-0.4,47)(-0.3,63)(-0.2,53)(-0.1,59)
(0,97)(0.1,70)(0.2,55)(0.3,66)(0.4,48)
(0.5,53)(0.6,63)(0.7,49)(0.8,59)(0.9,45)(1,41)(1.1,61)(1.2,51)(1.3,65)(1.4,47)
(1.5,55)(1.6,59)(1.7,49)(1.8,63)(1.9,53)(2,45)(2.1,61)(2.2,57)(2.3,51)(2.4,63)
(2.5,47)(2.6,59)(2.7,55)(2.8,49)(2.9,65)(3,53)(3.1,51)(3.2,61)(3.3,45)(3.4,57)
(3.5,63)(3.6,49)(3.7,59)(3.8,53)(3.9,65)(4,47)(4.1,57)
(4.2,59)(4.3,49)(4.4,63)(4.5,53)(4.6,45)(4.7,61)(4.8,55)(4.9,51)(5,65)(5.1,47)
(5.2,57)(5.3,51)(5.4,61)(5.5,45)(5.6,59)(5.7,63)(5.8,49)(5.9,55)(6,47)(6.1,61)
(6.2,53)(6.3,65)(6.4,51)(6.5,47)(6.6,57)(6.7,61)(6.8,49)(6.9,59)(7,53)(7.1,45)
(7.2,63)(7.3,39)(7.4,51)(7.5,61)(7.6,47)(7.7,59)(7.8,65)(7.9,49)(8,53)(8.1,63)
(8.2,51)(8.3,45)(8.4,61)(8.5,57)(8.6,49)(8.7,59)(8.8,47)(8.9,63)(9,53)(9.1,59)
(9.2,53)(9.3,63)(9.4,49)(9.5,59)(9.6,45)(9.7,57)(9.8,61)(9.9,51)(10,65)(10.1,47)
(10.2,55)(10.3,59)(10.4,49)(10.5,63)(10.6,53)(10.7,45)(10.8,61)(10.9,57)(11,51)(11.1,63)
(11.2,47)(11.3,59)(11.4,55)(11.5,49)(11.6,65)(11.7,53)(11.8,51)(11.9,61)(12,45)(12.1,57)
(12.2,63)(12.3,49)(12.4,59)(12.5,53)(12.6,65)(12.7,47)(12.8,57)
(12.9,59)(13,49)(13.1,63)(13.2,53)(13.3,45)(13.4,61)(13.5,55)(13.6,51)(13.7,65)(13.8,47)
(13.9,57)(14,51)(14.1,61)(14.2,45)(14.3,59)(14.4,63)(14.5,49)(14.6,55)(14.7,47)(14.8,61)
(14.9,53)(15,70)(15.1,51)(15.2,47)(15.3,57)(15.4,61)(15.5,49)(15.6,59)(15.7,53)(15.8,45)
(15.9,63)(16,55)(16.1,51)(16.2,61)(16.3,47)(16.4,59)(16.5,65)(16.6,49)(16.7,53)(16.8,63)
(16.9,51)(17,45)(17.1,61)(17.2,57)(17.3,49)(17.4,59)(17.5,47)(17.6,63)(17.7,53)(17.8,59)
(17.9,53)(18,63)(18.1,49)(18.2,59)(18.3,45)(18.4,57)(18.5,61)(18.6,51)(18.7,65)(18.8,47)
(18.9,55)(19,59)(19.1,49)(19.2,63)(19.3,53)(19.4,45)(19.5,61)(19.6,57)(19.7,51)(19.8,63)
(19.9,47)(20,76)(20.1,55)(20.2,49)(20.3,65)(20.4,53)(20.5,51)(20.6,61)(20.7,45)(20.8,57)
(20.9,63)(21,49)(21.1,59)(21.2,53)(21.3,65)(21.4,47)(21.5,57)
(21.6,59)(21.7,49)(21.8,63)(21.9,53)(22,45)(22.1,61)(22.2,55)(22.3,51)(22.4,65)(22.5,47)
(22.6,57)(22.7,51)(22.8,61)(22.9,45)(23,59)(23.1,63)(23.2,43)(23.3,55)(23.4,47)(23.5,61)
(23.6,53)(23.7,65)(23.8,51)(23.9,47)(24,57)(24.1,61)(24.2,49)(24.3,59)(24.4,53)(24.5,41)
(24.6,63)(24.7,55)(24.8,51)(24.9,61)(25,47)};
\addplot[r05] coordinates {(-5,77)(-4.5,75)(-4,75.5)(-3.5,81)(-3,81)(-2.5,78.5)(-2,76)(-1.5,78)(-1,80.5)(-0.5,82.5)(0,101)(0.5,82)(1,74.5)(1.5,78)(2,76)(2.5,73.5)(3,76.5)(3.5,80)(4,79.5)(4.5,78)(5,77.5)(5.5,76)(6,81)(6.5,77.5)(7,78.5)(7.5,79.5)(8,79.5)(8.5,77.5)(9,76.5)(9.5,78)(10,77)(10.5,81)(11,76)(11.5,79)(12,74.5)(12.5,79)(13,79.5)(13.5,77)(14,81)(14.5,79)(15,75.5)(15.5,78)(16,77)(16.5,79)(17,79)(17.5,79)(18,78)(18.5,80)(19,79)(19.5,79.5)(20,78)(20.5,80.5)(21,78)(21.5,80)(22,76.5)(22.5,76)(23,79.5)(23.5,79.5)(24,76.5)(24.5,79.5)(25,79)};
\addplot[trig] coordinates {(0.05,0)(0.05,105)};
\legend{binned in 32ms,binned in 0.5s}
\end{axis}
% ---------------- Panel 8
\begin{axis}[grb, at={(399pt,-1053pt)}, anchor=south west, title={\grbt{GRB 160509A}}]
\addplot[b32] coordinates {(-5,8)(-4.9,5)(-4.8,9)(-4.7,6)(-4.6,4)(-4.5,9)(-4.4,7)(-4.3,6)(-4.2,10)(-4.1,5)
(-4,8)(-3.9,6)(-3.8,9)(-3.7,4)(-3.6,8)(-3.5,9)(-3.4,5)(-3.3,7)(-3.2,5)(-3.1,9)
(-3,6)(-2.9,10)(-2.8,6)(-2.7,5)(-2.6,8)(-2.5,9)(-2.4,5)(-2.3,8)(-2.2,6)(-2.1,4)
(-2,9)(-1.9,7)(-1.8,6)(-1.7,9)(-1.6,5)(-1.5,8)(-1.4,10)(-1.3,5)(-1.2,6)(-1.1,9)
(-1,6)(-0.9,5)(-0.8,9)(-0.7,8)(-0.6,5)(-0.5,8)(-0.4,6)(-0.3,9)(-0.2,7)(-0.1,8)
(0,8)(0.1,10)(0.2,9)(0.3,11)(0.4,10)(0.5,12)(0.6,11)(0.7,13)(0.8,12)(0.9,14)(1,14)
(1.1,13)(1.2,12)(1.3,13)(1.4,11)(1.5,12)(1.6,10)(1.7,11)(1.8,10)(1.9,11)(2,9)
(2.1,10)(2.2,9)(2.3,11)(2.4,8)(2.5,10)(2.6,9)(2.7,8)(2.8,10)(2.9,7)(3,9)
(3.1,11)(3.2,12)(3.3,14)(3.4,13)(3.5,16)(3.6,17)(3.7,20)(3.8,19)(3.9,23)(4,22)
(4.1,25)(4.2,28)(4.3,26)(4.4,32)(4.5,35)(4.6,38)(4.7,42)(4.8,45)(4.9,50)(5,48)
(5.1,55)(5.2,60)(5.3,52)(5.4,68)(5.5,58)(5.6,65)(5.7,72)(5.8,55)(5.9,76)(6,62)
(6.1,50)(6.2,68)(6.3,58)(6.4,97)(6.5,72)(6.6,80)(6.7,70)(6.8,82)(6.9,72)(7,78)
(7.1,68)(7.2,75)(7.3,66)(7.4,80)(7.5,76)(7.6,85)(7.7,78)(7.8,89)(7.9,75)(8,70)
(8.1,65)(8.2,72)(8.3,60)(8.4,62)(8.5,55)(8.6,52)(8.7,50)(8.8,48)(8.9,45)(9,44)
(9.1,42)(9.2,38)(9.3,40)(9.4,36)(9.5,34)(9.6,33)(9.7,30)(9.8,32)(9.9,29)(10,28)
(10.1,27)(10.2,25)(10.3,26)(10.4,24)(10.5,22)(10.6,25)(10.7,23)(10.8,21)(10.9,22)(11,20)
(11.1,21)(11.2,19)(11.3,20)(11.4,18)(11.5,19)(11.6,17)(11.7,18)(11.8,16)(11.9,18)(12,17)
(12.1,16)(12.2,15)(12.3,17)(12.4,14)(12.5,16)(12.6,13)(12.7,15)(12.8,14)(12.9,13)(13,15)
(13.1,12)(13.2,14)(13.3,11)(13.4,13)(13.5,12)(13.6,10)(13.7,13)(13.8,11)(13.9,12)(14,10)
(14.1,12)(14.2,11)(14.3,9)(14.4,12)(14.5,10)(14.6,11)(14.7,9)(14.8,12)(14.9,10)(15,11)
(15.1,9)(15.2,6)(15.3,10)(15.4,7)(15.5,5)(15.6,10)(15.7,8)(15.8,7)(15.9,11)(16,6)
(16.1,9)(16.2,7)(16.3,10)(16.4,5)(16.5,9)(16.6,10)(16.7,6)(16.8,8)(16.9,6)(17,10)
(17.1,7)(17.2,11)(17.3,7)(17.4,6)(17.5,9)(17.6,10)(17.7,6)(17.8,9)(17.9,7)(18,5)
(18.1,10)(18.2,8)(18.3,7)(18.4,10)(18.5,6)(18.6,9)(18.7,11)(18.8,6)(18.9,7)(19,10)
(19.1,7)(19.2,5)(19.3,10)(19.4,9)(19.5,6)(19.6,9)(19.7,6)(19.8,10)(19.9,7)(20,9)
(20.1,7)(20.2,10)(20.3,6)(20.4,9)(20.5,5)(20.6,9)(20.7,10)(20.8,7)(20.9,11)(21,6)
(21.1,8)(21.2,9)(21.3,6)(21.4,10)(21.5,11)(21.6,5)(21.7,10)(21.8,9)(21.9,7)(22,10)
(22.1,6)(22.2,9)(22.3,8)(22.4,6)(22.5,11)(22.6,7)(22.7,7)(22.8,10)(22.9,5)(23,9)
(23.1,10)(23.2,6)(23.3,9)(23.4,7)(23.5,11)(23.6,6)(23.7,9)
(23.8,9)(23.9,6)(24,10)(24.1,7)(24.2,5)(24.3,10)(24.4,8)(24.5,7)(24.6,11)(24.7,6)
(24.8,9)(24.9,7)(25,10)};
\addplot[r05] coordinates {(-5,8.5)(-4.5,8.5)(-4,8.3)(-3.5,8.3)(-3,8.2)(-2.5,8)(-2,8)(-1.5,8.3)(-1,8.5)(-0.5,10.5)(0,11)(0.5,13.5)(1,16)(1.5,13.5)(2,11.5)(2.5,11)(3,11.5)(3.5,20)(4,27)(4.5,44)(5,69)(5.5,83.5)(6,86)(6.5,89.5)(7,95)(7.5,100)(8,82)(8.5,62)(9,46)(9.5,35)(10,27.5)(10.5,24)(11,21)(11.5,18.5)(12,16)(12.5,14.5)(13,13.5)(13.5,13)(14,12.2)(14.5,11.5)(15,11)(15.5,10.8)(16,10.5)(16.5,10)(17,9.8)(17.5,9.8)(18,9.5)(18.5,9.3)(19,9.3)(19.5,9.3)(20,9.2)(20.5,9)(21,9)(21.5,10)(22,9)(22.5,8.8)(23,8.7)(23.5,8.7)(24,8.6)(24.5,8.6)(25,8.6)};
\addplot[trig] coordinates {(6.4,0)(6.4,105)};
\legend{binned in 32ms,binned in 0.5s}
\end{axis}
\end{tikzpicture}
\end{document}
